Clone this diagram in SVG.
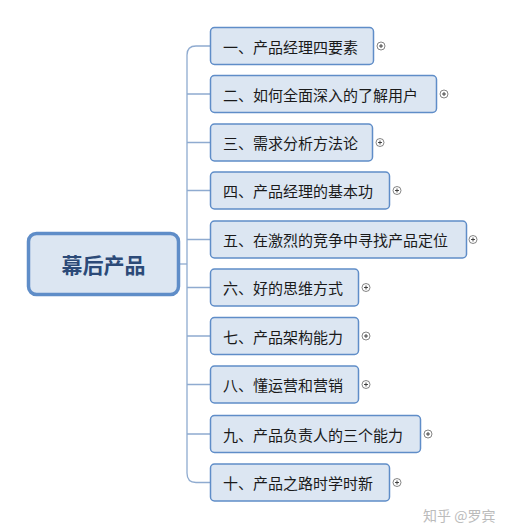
<svg xmlns="http://www.w3.org/2000/svg" width="529" height="526" viewBox="0 0 529 526">
<style>
.box{fill:#dce6f2;stroke:#5f8dc8;stroke-width:1.5}
.lbl{font-family:"Noto Sans CJK SC","Noto Sans",sans-serif;font-size:15px;fill:#1a1a1a;dominant-baseline:central}
.con{fill:none;stroke:#8fabd0;stroke-width:1.3}
.pl{fill:#fff;stroke:#666;stroke-width:0.8}
.plx{stroke:#333;stroke-width:0.9}
</style>
<defs>
<g id="plus"><circle class="pl" cx="0" cy="0" r="4"/><path class="plx" d="M-2,0H2M0,-2V2"/></g>
</defs>
<rect width="529" height="526" fill="#fff"/>
<g id="connectors">
<path class="con" d="M180,264 H187"/>
<path class="con" d="M210,46 H196 Q187,46 187,55 V473 Q187,482.5 196,482.5 H210"/>
<path class="con" d="M187,94 H210 M187,142.5 H210 M187,190.5 H210 M187,239.5 H210 M187,287.5 H210 M187,336 H210 M187,384.5 H210 M187,434 H210"/>
</g>
<g id="root">
<rect x="28.5" y="233.5" width="150" height="61" rx="8" fill="#dce6f2" stroke="#5f8dc8" stroke-width="3.5"/>
<text x="103.5" y="264" text-anchor="middle" dominant-baseline="central" font-family="Noto Sans CJK SC,sans-serif" font-size="21" font-weight="bold" fill="#2c4a78">幕后产品</text>
</g>
<g id="n1"><rect class="box" x="210.5" y="27.5" width="163" height="37" rx="4"/><text class="lbl" x="223" y="46">一、产品经理四要素</text><use href="#plus" x="381" y="46"/></g>
<g id="n2"><rect class="box" x="210.5" y="75.5" width="226" height="37" rx="4"/><text class="lbl" x="223" y="94">二、如何全面深入的了解用户</text><use href="#plus" x="444" y="94"/></g>
<g id="n3"><rect class="box" x="210.5" y="124" width="162" height="37" rx="4"/><text class="lbl" x="223" y="142.5">三、需求分析方法论</text><use href="#plus" x="380" y="142.5"/></g>
<g id="n4"><rect class="box" x="210.5" y="172" width="179" height="37" rx="4"/><text class="lbl" x="223" y="190.5">四、产品经理的基本功</text><use href="#plus" x="397" y="190.5"/></g>
<g id="n5"><rect class="box" x="210.5" y="221" width="256" height="37" rx="4"/><text class="lbl" x="223" y="239.5">五、在激烈的竞争中寻找产品定位</text><use href="#plus" x="473" y="239.5"/></g>
<g id="n6"><rect class="box" x="210.5" y="269" width="148" height="37" rx="4"/><text class="lbl" x="223" y="287.5">六、好的思维方式</text><use href="#plus" x="366" y="287.5"/></g>
<g id="n7"><rect class="box" x="210.5" y="317.5" width="148" height="37" rx="4"/><text class="lbl" x="223" y="336">七、产品架构能力</text><use href="#plus" x="366" y="336"/></g>
<g id="n8"><rect class="box" x="210.5" y="366" width="148" height="37" rx="4"/><text class="lbl" x="223" y="384.5">八、懂运营和营销</text><use href="#plus" x="366" y="384.5"/></g>
<g id="n9"><rect class="box" x="210.5" y="415.5" width="210" height="37" rx="4"/><text class="lbl" x="223" y="434">九、产品负责人的三个能力</text><use href="#plus" x="428" y="434"/></g>
<g id="n10"><rect class="box" x="210.5" y="464" width="179" height="37" rx="4"/><text class="lbl" x="223" y="482.5">十、产品之路时学时新</text><use href="#plus" x="397" y="482.5"/></g>
<text x="423" y="515" font-family="Noto Sans CJK SC,sans-serif" font-size="14" fill="#bbb" dominant-baseline="central">知乎 @罗宾</text>
</svg>
